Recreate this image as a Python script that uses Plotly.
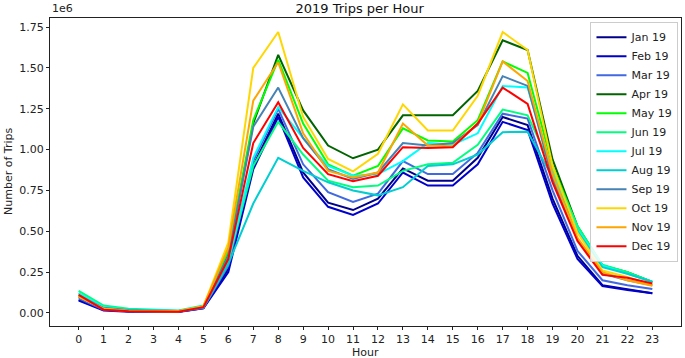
import plotly.graph_objects as go

hours = list(range(24))
hour_labels = [str(h) for h in hours]

months = ["Jan 19", "Feb 19", "Mar 19", "Apr 19", "May 19", "Jun 19",
          "Jul 19", "Aug 19", "Sep 19", "Oct 19", "Nov 19", "Dec 19"]
colors = ["#00008b", "#0000cd", "#4169e1", "#006400", "#00ff00", "#00ff7f",
          "#00ffff", "#00ced1", "#4682b4", "#ffd700", "#ffa500", "#ff0000"]

jan = [0.080, 0.020, 0.010, 0.008, 0.008, 0.030, 0.27, 0.90, 1.22, 0.86, 0.675, 0.63,
       0.70, 0.885, 0.81, 0.81, 0.95, 1.20, 1.15, 0.70, 0.35, 0.17, 0.145, 0.12]
feb = [0.075, 0.015, 0.008, 0.006, 0.006, 0.028, 0.25, 0.88, 1.20, 0.83, 0.65, 0.60,
       0.67, 0.86, 0.78, 0.78, 0.91, 1.17, 1.12, 0.67, 0.33, 0.165, 0.14, 0.12]
mar = [0.090, 0.020, 0.010, 0.008, 0.008, 0.030, 0.29, 0.93, 1.25, 0.91, 0.74, 0.68,
       0.73, 0.93, 0.85, 0.85, 0.98, 1.22, 1.19, 0.75, 0.38, 0.20, 0.17, 0.147]
apr = [0.100, 0.030, 0.015, 0.010, 0.010, 0.040, 0.36, 1.16, 1.58, 1.24, 1.025, 0.947,
       1.00, 1.21, 1.21, 1.21, 1.36, 1.67, 1.61, 0.94, 0.53, 0.29, 0.25, 0.19]
may = [0.120, 0.035, 0.020, 0.012, 0.012, 0.040, 0.38, 1.18, 1.55, 1.16, 0.91, 0.84,
       0.90, 1.13, 1.056, 1.05, 1.18, 1.54, 1.47, 0.90, 0.53, 0.29, 0.25, 0.19]
jun = [0.135, 0.045, 0.025, 0.018, 0.015, 0.045, 0.32, 0.90, 1.17, 0.97, 0.81, 0.77,
       0.78, 0.87, 0.91, 0.92, 1.03, 1.245, 1.21, 0.88, 0.53, 0.295, 0.25, 0.19]
jul = [0.120, 0.035, 0.020, 0.015, 0.012, 0.040, 0.32, 0.95, 1.26, 1.07, 0.90, 0.84,
       0.85, 0.93, 1.04, 1.03, 1.10, 1.39, 1.38, 0.86, 0.51, 0.29, 0.24, 0.19]
aug = [0.110, 0.030, 0.020, 0.015, 0.012, 0.035, 0.30, 0.67, 0.95, 0.87, 0.80, 0.75,
       0.72, 0.77, 0.90, 0.91, 0.97, 1.107, 1.11, 0.83, 0.50, 0.28, 0.24, 0.19]
sep = [0.100, 0.030, 0.015, 0.010, 0.010, 0.035, 0.35, 1.14, 1.38, 1.07, 0.88, 0.82,
       0.86, 1.04, 1.025, 1.04, 1.15, 1.45, 1.39, 0.82, 0.45, 0.24, 0.20, 0.17]
oct_ = [0.100, 0.025, 0.012, 0.010, 0.010, 0.040, 0.43, 1.50, 1.72, 1.20, 0.943, 0.867,
        0.975, 1.277, 1.117, 1.117, 1.33, 1.72, 1.61, 0.90, 0.49, 0.26, 0.22, 0.17]
nov = [0.100, 0.025, 0.012, 0.010, 0.010, 0.040, 0.40, 1.30, 1.535, 1.10, 0.87, 0.83,
       0.86, 1.16, 1.025, 1.02, 1.16, 1.54, 1.42, 0.85, 0.46, 0.25, 0.20, 0.166]
dec = [0.110, 0.020, 0.010, 0.008, 0.008, 0.035, 0.33, 1.04, 1.29, 1.01, 0.85, 0.806,
       0.84, 1.015, 1.01, 1.015, 1.16, 1.38, 1.28, 0.80, 0.44, 0.233, 0.215, 0.18]

series = [jan, feb, mar, apr, may, jun, jul, aug, sep, oct_, nov, dec]
y_ticks = [0.0, 0.25, 0.5, 0.75, 1.0, 1.25, 1.5, 1.75]

FONT = "DejaVu Sans"
TXT = "#222222"

fig = go.Figure()
for name, vals, col in zip(months, series, colors):
    fig.add_trace(go.Scatter(
        x=hours, y=[v * 1e6 for v in vals], mode="lines", name=name,
        line=dict(color=col, width=2)))

fig.update_layout(
    width=685, height=358,
    margin=dict(l=50, r=4, t=18, b=32, autoexpand=False),
    paper_bgcolor="white", plot_bgcolor="white",
    font=dict(family=FONT, size=11, color=TXT),
    title=dict(text="2019 Trips per Hour", x=0.525, xanchor="center",
               yref="container", y=1 - 8 / 358, yanchor="middle",
               pad=dict(t=0, b=0), font=dict(size=13, color="#111111")),
    showlegend=True,
    legend=dict(x=0.996, y=0.988, xanchor="right", yanchor="top",
                bgcolor="rgba(255,255,255,0.85)", bordercolor="#cccccc",
                borderwidth=1, font=dict(size=11, color=TXT),
                tracegroupgap=0),
)

fig.update_xaxes(
    range=[-1.15, 24.15], tickmode="array", tickvals=hours, ticktext=hour_labels,
    showgrid=False, zeroline=False, showline=True, linecolor=TXT, linewidth=1,
    mirror=True, ticks="outside", ticklen=3, tickcolor=TXT, automargin=False,
)
fig.update_yaxes(
    range=[-0.08e6, 1.806e6], tickmode="array",
    tickvals=[t * 1e6 for t in y_ticks], ticktext=[f"{t:.2f}" for t in y_ticks],
    showgrid=False, zeroline=False, showline=True, linecolor=TXT, linewidth=1,
    mirror=True, ticks="outside", ticklen=3, tickcolor=TXT, automargin=False,
)

fig.add_annotation(text="1e6", xref="paper", yref="paper", x=0, y=1,
                   xanchor="left", yanchor="bottom", yshift=1, showarrow=False,
                   font=dict(size=11, color=TXT))
fig.add_annotation(text="Number of Trips", xref="paper", yref="paper", x=0, y=0.5,
                   xanchor="center", yanchor="middle", xshift=-42, textangle=-90,
                   showarrow=False, font=dict(size=11, color=TXT))
fig.add_annotation(text="Hour", xref="paper", yref="paper", x=0.5, y=0,
                   xanchor="center", yanchor="middle", yshift=-26,
                   showarrow=False, font=dict(size=11, color=TXT))

fig.write_html("out.html",
               config={"displayModeBar": False},
               post_script="document.body.style.margin='0px';"
                           "document.body.style.overflow='hidden';")
